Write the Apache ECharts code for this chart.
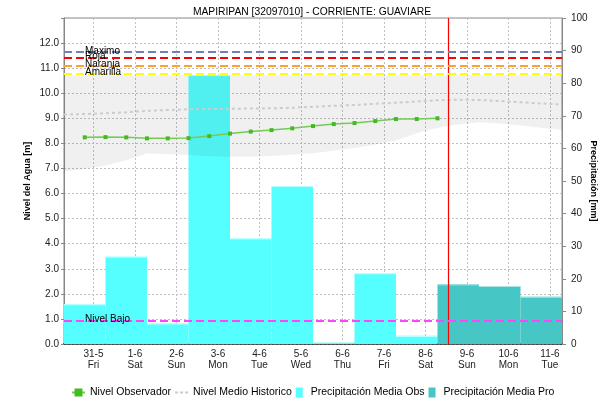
<!DOCTYPE html>
<html>
<head>
<meta charset="utf-8">
<script src="https://cdn.jsdelivr.net/npm/echarts@6/dist/echarts.min.js"></script>
<style>html,body{margin:0;padding:0;background:#fff}#c{width:602px;height:403px}</style>
</head>
<body>
<div id="c"></div>
<script>
// ---- data ----
const categories = ['31-5','1-6','2-6','3-6','4-6','5-6','6-6','7-6','8-6','9-6','10-6','11-6'];
const weekdays = ['Fri','Sat','Sun','Mon','Tue','Wed','Thu','Fri','Sat','Sun','Mon','Tue'];
const precipObs = [12.2, 26.8, 6.3, 82.5, 32.4, 48.5, 0.6, 21.7, 2.5];
const precipPro = [18.3, 17.8, 14.5];
const levelTimes = [0.5,1,1.5,2,2.5,3,3.5,4,4.5,5,5.5,6,6.5,7,7.5,8,8.5,9];
const levelObs = [8.24,8.25,8.24,8.20,8.20,8.21,8.29,8.39,8.47,8.53,8.60,8.69,8.77,8.81,8.89,8.97,8.97,9.00];
const histTimes = [0,0.5,1,1.5,2,2.5,3,3.5,4,4.5,5,5.5,6,6.5,7,7.5,8,8.5,9,9.5,10,10.5,11,11.5,12];
const histMean = [9.15,9.17,9.20,9.24,9.30,9.33,9.36,9.37,9.38,9.39,9.40,9.42,9.46,9.50,9.53,9.58,9.62,9.67,9.72,9.74,9.73,9.69,9.64,9.59,9.55];
const histLower = [6.88,6.98,7.12,7.33,7.60,7.58,7.54,7.49,7.47,7.47,7.50,7.55,7.61,7.71,7.82,7.95,8.12,8.40,8.62,8.75,8.84,8.79,8.71,8.62,8.53];
const histUpper = [10.72,10.72,10.72,10.72,10.72,10.72,10.72,10.72,10.72,10.72,10.72,10.72,10.72,10.72,10.72,10.72,10.72,10.72,10.72,10.72,10.72,10.72,10.72,10.72,10.72];
const thresholdNames = ['Maximo','Roja','Naranja','Amarilla','Nivel Bajo'];
const thresholdValues = [11.65, 11.42, 11.10, 10.78, 0.93];
const forecastStart = 9.26;
const levelTicks = [0,1,2,3,4,5,6,7,8,9,10,11,12];

// ---- chart ----
const FONT = 'Liberation Sans, Arial, sans-serif';
const thresholdColors = ['#7180b0','#ff0000','#ffa030','#ffff00','#ff44ff'];
const tickOffset = 0.71;
const tickPositions = categories.map((c, i) => i + tickOffset);

function barRender(topColor) {
  return function (params, api) {
    const x = api.value(0), v = api.value(1);
    const p0 = api.coord([x, 0]);
    const p1 = api.coord([x + 1, v]);
    return {
      type: 'group',
      children: [
        { type: 'rect', shape: { x: p0[0], y: p1[1], width: p1[0] - p0[0], height: p0[1] - p1[1] },
          style: { fill: api.visual('color') } },
        { type: 'line', shape: { x1: p0[0], y1: p1[1] + 0.5, x2: p1[0], y2: p1[1] + 0.5 },
          style: { stroke: topColor, lineWidth: 1 } }
      ]
    };
  };
}

// band polygon: drawn once, from all data rows [t, lower, upper]
function bandRender(params, api) {
  if (params.dataIndexInside !== 0) return null;
  const n = params.dataInsideLength;
  const top = [], bottom = [];
  for (let j = 0; j < n; j++) {
    top.push(api.coord([api.value(0, j), api.value(2, j)]));
    bottom.push(api.coord([api.value(0, j), api.value(1, j)]));
  }
  return {
    type: 'polygon',
    shape: { points: top.concat(bottom.reverse()) },
    style: { fill: 'rgba(0,0,0,0.06)' }
  };
}

const chart = echarts.init(document.getElementById('c'), null, { renderer: 'canvas' });
chart.setOption({
  animation: false,
  backgroundColor: '#fff',
  textStyle: { fontFamily: FONT },
  title: {
    text: 'MAPIRIPAN [32097010] - CORRIENTE: GUAVIARE',
    left: 307, top: 2, textAlign: 'center',
    textStyle: { fontSize: 10.3, fontWeight: 'normal', color: '#000', fontFamily: FONT }
  },
  grid: { left: 64, right: 40, top: 18, bottom: 59, outerBoundsMode: 'none', containLabel: false,
    show: true, borderColor: '#888', borderWidth: 1, backgroundColor: 'transparent' },
  legend: {
    top: 382, left: 66, itemGap: 4, itemWidth: 13, itemHeight: 10,
    textStyle: { fontSize: 10.5, color: '#000', fontFamily: FONT },
    data: [
      { name: 'Nivel Observador' },
      { name: 'Nivel Medio Historico', icon: 'path://M0,0h3v2h-3z M5,0h3v2h-3z M10,0h3v2h-3z' },
      { name: 'Precipitación Media Obs', icon: 'path://M0,0h7v10h-7z' },
      { name: 'Precipitación Media Pro', icon: 'path://M0,0h7v10h-7z' }
    ]
  },
  xAxis: {
    type: 'value', min: 0, max: 12,
    axisLine: { show: true, lineStyle: { color: '#444', type: 'dotted', width: 2 } },
    axisTick: { show: false, customValues: tickPositions },
    axisLabel: {
      customValues: tickPositions, fontSize: 10, color: '#222', lineHeight: 11, margin: 5,
      formatter: v => { const i = Math.round(v - tickOffset); return categories[i] + '\n' + weekdays[i]; }
    },
    splitLine: { show: true, lineStyle: { color: '#c0c0c0', type: [2, 2] } }
  },
  yAxis: [
    {
      type: 'value', min: 0, max: 13, interval: 1,
      name: 'Nivel del Agua [m]', nameLocation: 'middle', nameGap: 32, nameMoveOverlap: false,
      nameTextStyle: { fontSize: 9, fontWeight: 'bold', color: '#000', fontFamily: FONT },
      axisLine: { show: true, lineStyle: { color: '#888' } },
      axisTick: { show: true, length: 3, lineStyle: { color: '#888' } },
      axisLabel: { fontSize: 10, color: '#222', margin: 5,
        customValues: levelTicks, formatter: v => v.toFixed(1) },
      splitLine: { show: true, lineStyle: { color: '#c0c0c0', type: [2, 2] } }
    },
    {
      type: 'value', min: 0, max: 100, interval: 10, position: 'right',
      name: 'Precipitación [mm]', nameLocation: 'middle', nameGap: 27, nameRotate: -90, nameMoveOverlap: false,
      nameTextStyle: { fontSize: 9, fontWeight: 'bold', color: '#000', fontFamily: FONT },
      axisLine: { show: true, lineStyle: { color: '#888' } },
      axisTick: { show: true, length: 4, lineStyle: { color: '#888' } },
      axisLabel: { fontSize: 10, color: '#222', margin: 9 },
      splitLine: { show: false }
    }
  ],
  series: [
    {
      name: 'Precipitación Media Obs', type: 'custom', xAxisIndex: 0, yAxisIndex: 1, z: 1,
      itemStyle: { color: '#55ffff' },
      renderItem: barRender('#c6ffff'),
      data: precipObs.map((v, i) => [i, v])
    },
    {
      name: 'Precipitación Media Pro', type: 'custom', xAxisIndex: 0, yAxisIndex: 1, z: 1,
      itemStyle: { color: '#47c6c6' },
      renderItem: barRender('#aee6e6'),
      data: precipPro.map((v, i) => [precipObs.length + i, v])
    },
    {
      name: 'band', type: 'custom', xAxisIndex: 0, yAxisIndex: 0, z: 2, silent: true,
      renderItem: bandRender,
      encode: { x: 0, y: [1, 2] },
      data: histTimes.map((t, i) => [t, histLower[i], histUpper[i]])
    },
    {
      name: 'Nivel Medio Historico', type: 'line', z: 3, symbol: 'none',
      itemStyle: { color: '#cccccc' },
      lineStyle: { color: '#cccccc', width: 2, type: [3, 3] },
      data: histTimes.map((t, i) => [t, histMean[i]]),
      markLine: {
        silent: true, symbol: 'none', animation: false,
        label: { show: false },
        lineStyle: { color: '#ff0000', type: 'solid', width: 1.2, opacity: 1 },
        data: [{ name: 'forecast', xAxis: forecastStart,
          lineStyle: { color: '#ff0000', type: 'solid', width: 1.2, opacity: 1 } }]
      }
    },
    {
      name: 'Nivel Observador', type: 'line', z: 4,
      symbol: 'rect', symbolSize: 4,
      itemStyle: { color: '#44bb22' },
      lineStyle: { color: '#72cc55', width: 1.5 },
      data: levelTimes.map((t, i) => [t, levelObs[i]]),
      markLine: {
        silent: true, symbol: 'none', animation: false,
        label: {
          show: true, position: 'insideStartTop', distance: [21, -4],
          formatter: '{b}', fontSize: 10, color: '#000', fontFamily: FONT
        },
        data: thresholdNames.map((n, i) => ({
          name: n, yAxis: thresholdValues[i],
          lineStyle: { color: thresholdColors[i], type: [8, 4], width: 2 }
        }))
      }
    }
  ]
});
</script>
</body>
</html>
